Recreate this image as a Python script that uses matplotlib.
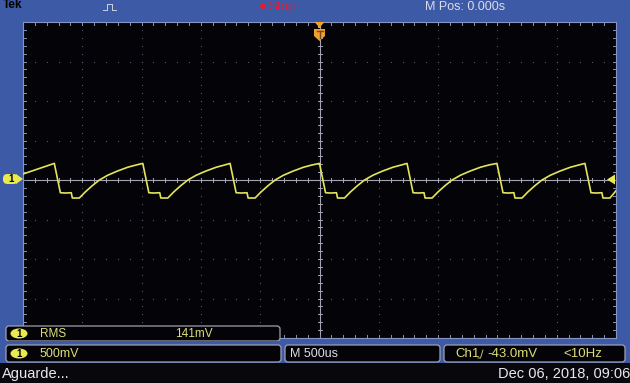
import numpy as np
import matplotlib

matplotlib.use("Agg")
import matplotlib.pyplot as plt
from matplotlib.patches import FancyBboxPatch, Polygon, Ellipse, Circle, Rectangle

W, H = 630, 383

# falling-edge times of each cycle on screen (us)
edge_times = [-2236, -1490, -754, 0, 738, 1496, 2238]
# one cycle, offset from its falling edge (us) and level (mV)
cycle_t = [0, 51, 95, 143, 152, 211, 262, 320, 380, 450, 530, 620, 690]
cycle_v = [210, -161, -165, -161, -228, -228, -150, -72, 0, 60, 112, 162, 190]
peak_mv = 210
start_t, start_v = -2500, 76
end_v = -136

x_div, y_div = 500, 500  # us/div, mV/div
meas_labels = ["RMS", "141mV"]
ch_scale = "500mV"
time_scale = "M 500us"
trig_text = ["Ch1", "-43.0mV", "<10Hz"]
mpos = "M Pos: 0.000s"
status_left = "Aguarde..."
status_right = "Dec 06, 2018, 09:06"

BLUE = "#3d5aa6"
BLACK = "#040408"
YEL = "#e4e45c"
TXT_Y = "#dede78"
GRID = "#60606e"
plt.rcParams["font.family"] = ["Liberation Sans", "DejaVu Sans"]

fig = plt.figure(figsize=(W / 100, H / 100), dpi=100, facecolor=BLUE)

# graticule area in pixels
gl, gt, gr, gb = 23, 22, 616, 338
ax = fig.add_axes([gl / W, 1 - gb / H, (gr - gl) / W, (gb - gt) / H])
ax.set_facecolor(BLACK)
ax.set_xlim(-5 * x_div, 5 * x_div)
ax.set_ylim(-4 * y_div, 4 * y_div)
ax.set_xticks([])
ax.set_yticks([])
for s in ax.spines.values():
    s.set_color("#8894c0")
    s.set_linewidth(0.8)

px_x = 10 * x_div / (gr - gl)
px_y = 8 * y_div / (gb - gt)

# dotted grid
for k in range(-4, 5):
    if k == 0:
        continue
    ys = np.arange(-4 * y_div, 4 * y_div + 1, y_div / 5)
    ax.scatter(np.full_like(ys, k * x_div), ys, s=0.7, c=GRID, linewidths=0)
for k in range(-3, 4):
    if k == 0:
        continue
    xs = np.arange(-5 * x_div, 5 * x_div + 1, x_div / 5)
    ax.scatter(xs, np.full_like(xs, k * y_div), s=0.7, c=GRID, linewidths=0)

# centre cross with ticks
ax.axhline(0, color="#a4a4b4", lw=0.8)
ax.axvline(0, color="#a4a4b4", lw=0.8)
for xv in np.arange(-5 * x_div, 5 * x_div + 1, x_div / 5):
    ax.plot([xv, xv], [-2 * px_y, 2 * px_y], color="#a4a4b4", lw=0.7)
    ax.plot([xv, xv], [4 * y_div, 4 * y_div - 3 * px_y], color="#8894c0", lw=0.7)
    ax.plot([xv, xv], [-4 * y_div, -4 * y_div + 3 * px_y], color="#8894c0", lw=0.7)
for yv in np.arange(-4 * y_div, 4 * y_div + 1, y_div / 5):
    ax.plot([-2 * px_x, 2 * px_x], [yv, yv], color="#a4a4b4", lw=0.7)
    ax.plot([-5 * x_div, -5 * x_div + 3 * px_x], [yv, yv], color="#8894c0", lw=0.7)
    ax.plot([5 * x_div, 5 * x_div - 3 * px_x], [yv, yv], color="#8894c0", lw=0.7)

# waveform
tt = [start_t]
vv = [start_v]
for e in edge_times:
    tt.append(e)
    vv.append(peak_mv)
    for ct, cv in zip(cycle_t[1:], cycle_v[1:]):
        if e + ct < 5 * x_div:
            tt.append(e + ct)
            vv.append(cv)
tt.append(5 * x_div)
vv.append(end_v)
ax.plot(tt, vv, color=YEL, lw=1.2, clip_on=True, zorder=5)

# overlay in pixel coordinates
ov = fig.add_axes([0, 0, 1, 1])
ov.set_xlim(0, W)
ov.set_ylim(H, 0)
ov.axis("off")
ov.patch.set_alpha(0)


def box(x0, y0, x1, y1, fc=BLACK, ec="#a0a0b0", r=3):
    ov.add_patch(FancyBboxPatch((x0, y0), x1 - x0, y1 - y0,
                                boxstyle=f"round,pad=0,rounding_size={r}",
                                fc=fc, ec=ec, lw=0.9))


def ch_badge(xc, yc):
    ov.add_patch(Ellipse((xc, yc), 17, 10, fc="#eaea50", ec="none"))
    ov.text(xc, yc + 0.3, "1", color="black", fontsize=7, ha="center", va="center",
            fontweight="bold")


# top bar
ov.text(3, 5.5, "Tek", color="black", fontsize=8.5, fontweight="bold", va="center")
ov.plot([103, 107, 107, 112, 112, 116], [10, 10, 4, 4, 10, 10], color="#d0d0e0", lw=0.7)
ov.add_patch(Circle((263, 6), 3, fc="#e02030", ec="none"))
ov.text(268, 7, "Stop", color="#d8203c", fontsize=9.5, va="center")
ov.text(425, 7, mpos, color="#dcdce8", fontsize=9, va="center")

# trigger position marker
ov.add_patch(Polygon([[314.5, 22], [324.5, 22], [321, 26], [321, 28], [318, 28], [318, 26]],
                     fc="#f0a030", ec="none"))
ov.add_patch(Polygon([[314, 29], [325, 29], [325, 36], [319.5, 41], [314, 36]],
                     fc="#f0a030", ec="none"))
ov.plot([319.5, 319.5], [31, 38], color="#7a4a10", lw=1.0)
ov.plot([316.5, 322.5], [31, 31], color="#7a4a10", lw=1.0)

# channel ground marker and trigger level
ov.add_patch(FancyBboxPatch((3, 174), 15, 10, boxstyle="round,pad=0,rounding_size=4.5",
                            fc="#eaea50", ec="none"))
ov.add_patch(Polygon([[16, 174], [23, 179], [16, 184]], fc="#eaea50", ec="none"))
ov.text(11, 179.3, "1", color="black", fontsize=7, ha="center", va="center",
        fontweight="bold")
ov.add_patch(Polygon([[607, 179.5], [615, 174.5], [615, 184.5]], fc="#eaea50", ec="none"))

# measurement row
box(6, 326, 280, 341)
ch_badge(19, 333.5)
ov.text(40, 334, meas_labels[0], color=TXT_Y, fontsize=8.5, va="center")
ov.text(175, 334, meas_labels[1], color=TXT_Y, fontsize=8.5, va="center")

# settings row
ov.add_patch(Rectangle((0, 341), W, 22, fc=BLUE, ec="none"))
box(6, 345, 281, 362)
box(285, 345, 440, 362)
box(444, 345, 625, 362)
ch_badge(19, 353.5)
ov.text(40, 354, ch_scale, color=TXT_Y, fontsize=9, va="center")
ov.text(290, 354, time_scale, color="#dcdce8", fontsize=9, va="center")
ov.text(455, 354, trig_text[0], color=TXT_Y, fontsize=9.5, va="center")
ov.plot([478, 480.5, 483], [358, 358, 350], color=TXT_Y, lw=0.6)
ov.text(487, 354, trig_text[1], color=TXT_Y, fontsize=9.5, va="center")
ov.text(563, 354, trig_text[2], color=TXT_Y, fontsize=9.5, va="center")

# status row
ov.add_patch(Rectangle((0, 363), W, 20, fc="#08080c", ec="none"))
ov.text(2, 374, status_left, color="#e8e8f0", fontsize=10.5, va="center")
ov.text(630, 374, status_right, color="#e8e8f0", fontsize=10.5, va="center", ha="right")

fig.savefig("out.png", dpi=100, facecolor=BLUE)
